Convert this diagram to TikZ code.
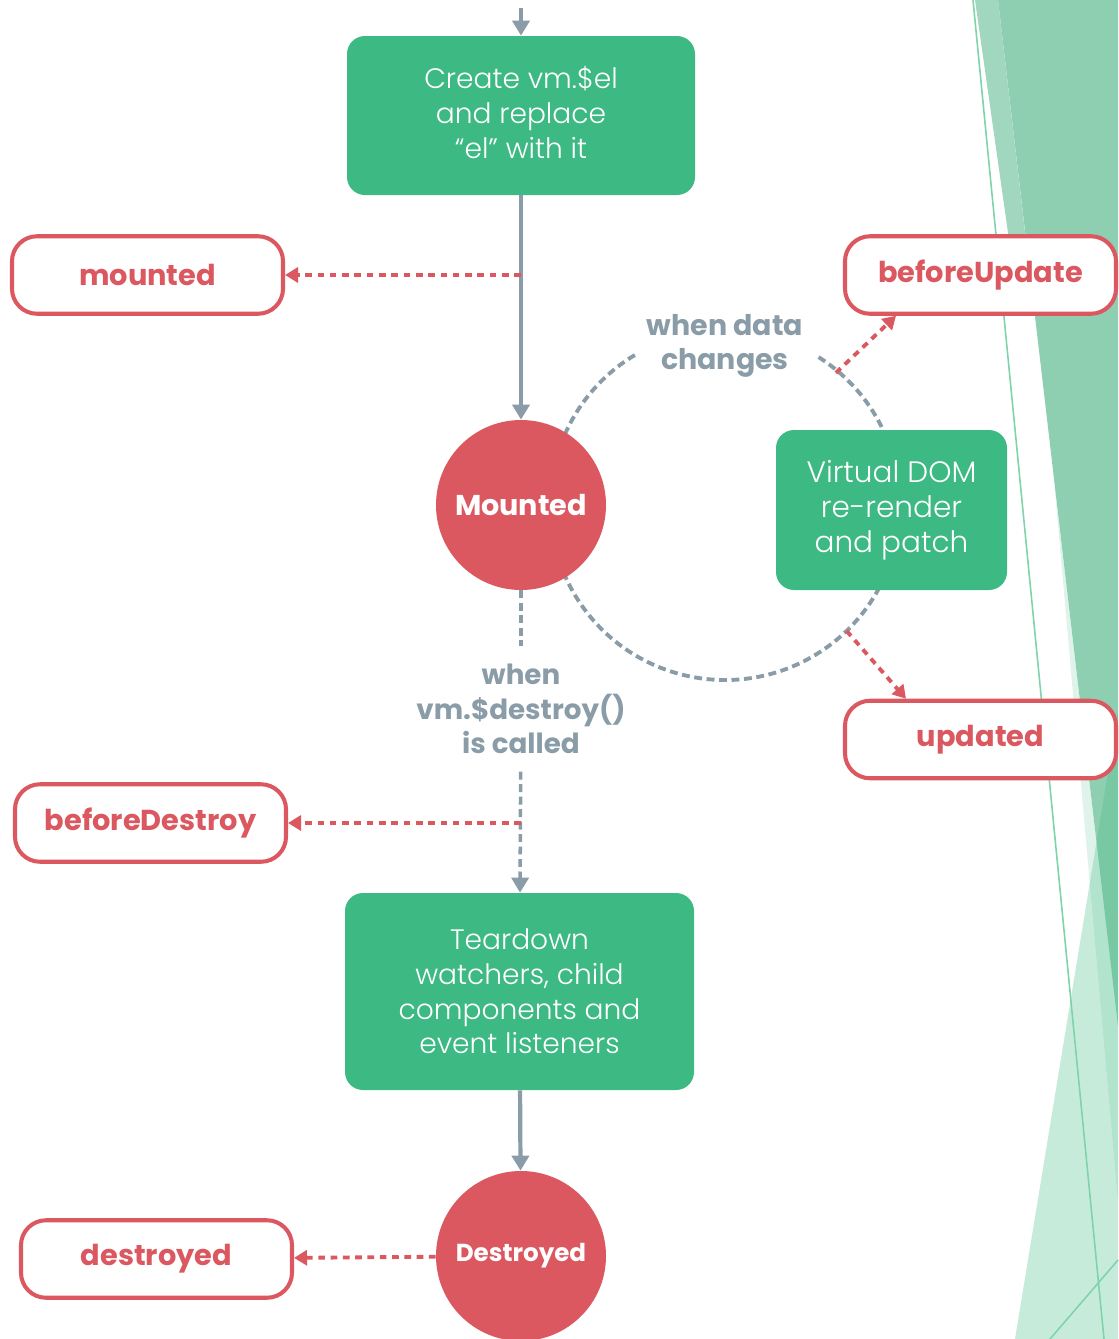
\documentclass[tikz,border=0pt]{standalone}
\usepackage{fontspec}
\setmainfont{Poppins}
\newfontfamily\thinfont{Poppins Light}
\usetikzlibrary{arrows.meta}

\definecolor{vuegreen}{HTML}{3DB983}
\definecolor{vuered}{HTML}{DB5860}
\definecolor{vuegray}{HTML}{8A9CA7}
\definecolor{facetmid}{HTML}{8FCFB1}
\definecolor{facetstrip}{HTML}{A0D7BE}
\definecolor{facetline}{HTML}{7FD3AB}

\begin{document}
\begin{tikzpicture}[
        stagebox/.style={fill=vuegreen, rounded corners=0.36cm, text=white, align=center,
            font=\thinfont\fontsize{16}{19.8}\selectfont},
        hookbox/.style={draw=vuered, line width=2.3pt, fill=white, rounded corners=0.5cm,
            minimum width=5.42cm, minimum height=1.55cm, text=vuered,
            font=\bfseries\fontsize{16.4}{19}\selectfont},
        statecircle/.style={circle, fill=vuered, minimum size=3.4cm, inner sep=0pt, text=white,
            font=\bfseries\fontsize{16.3}{19}\selectfont},
        waitlabel/.style={text=vuegray, align=center, inner sep=0.35cm,
            font=\bfseries\fontsize{15.8}{19.6}\selectfont},
        flow/.style={draw=vuegray, line width=2.4pt, -{Triangle[length=0.3cm,width=0.34cm]}},
        waitline/.style={draw=vuegray, line width=2pt, dash pattern=on 4.5pt off 2.6pt},
        hookline/.style={draw=vuered, line width=2.2pt, dash pattern=on 3.8pt off 3.2pt,
            -{Triangle[length=0.26cm,width=0.3cm]}}
    ]
    \useasboundingbox (0,0) rectangle (22.36,-26.78);

    \fill[facetmid] (19.96,0) -- (22.36,0) -- (22.36,-20.52) -- cycle;
    \fill[facetstrip] (19.5,0) -- (19.96,0) -- (20.6,-5.5) -- (20.28,-5.5) -- cycle;
    \fill[vuegreen, opacity=.165] (21.08,-9.6) -- (22.36,-24.02) -- (22.36,-20.52) -- cycle;
    \fill[vuegreen, opacity=.285] (20.3,-26.78) -- (22.36,-14.22) -- (22.36,-26.78) -- cycle;
    \draw[facetline, line width=0.9pt] (19.46,0) -- (22.08,-26.78);
    \draw[facetline, line width=0.9pt] (21.0,-26.78) -- (22.36,-25.2);

    \coordinate (loopc) at (14.5,-10.1);
    \draw[waitline, line width=2.2pt] ([shift={(loopc)}]121:3.5) arc[start angle=121, end angle=419, radius=3.5];

    \coordinate (entry) at (10.42,-0.16);
    \node[stagebox, minimum width=6.96cm, minimum height=3.18cm, text depth=0.12cm] (create) at (10.42,-2.31) {Create vm.\$el\\and replace\\“el” with it};
    \node[statecircle] (mounted) at (10.42,-10.1) {Mounted};
    \node[hookbox] (mountedhook) at (2.95,-5.5) {mounted};
    \node[hookbox] (beforeupdate) at (19.61,-5.5) {beforeUpdate};
    \node[waitlabel, font=\bfseries\fontsize{16.2}{19.6}\selectfont] (datachange) at (14.5,-6.92) {when data\\changes};
    \node[stagebox, minimum width=4.62cm, minimum height=3.2cm, font=\thinfont\fontsize{16.8}{19.8}\selectfont] (rerender) at (17.83,-10.2) {Virtual DOM\\re-render\\and patch};
    \node[hookbox] (updated) at (19.61,-14.79) {updated};
    \node[waitlabel] (destroywhen) at (10.42,-14.18) {when\\vm.\$destroy()\\is called};
    \node[hookbox] (beforedestroy) at (3.01,-16.46) {beforeDestroy};
    \node[stagebox, minimum width=6.98cm, minimum height=3.94cm] (teardown) at (10.39,-19.83) {Teardown\\watchers, child\\components and\\event listeners};
    \node[statecircle, font=\bfseries\fontsize{14}{17}\selectfont] (destroyed) at (10.42,-25.12) {Destroyed};
    \node[hookbox] (destroyedhook) at (3.13,-25.18) {destroyed};

    \coordinate (mountedtap) at (10.42,-5.5);
    \coordinate (destroytap) at (10.42,-16.46);

    \draw[flow] (entry) -- (create);
    \draw[flow] (create) -- (mounted);
    \draw[hookline] (mountedtap) -- (mountedhook);
    \draw[hookline] ([shift={(loopc)}]50:3.45) -- ([xshift=1.06cm]beforeupdate.south west);
    \draw[hookline] ([shift={(loopc)}]-46:3.5) -- ([xshift=1.26cm]updated.north west);
    \draw[waitline] (mounted) -- (destroywhen);
    \draw[waitline, -{Triangle[length=0.3cm,width=0.34cm]}] (destroywhen) -- (teardown);
    \draw[hookline] (destroytap) -- (beforedestroy);
    \draw[flow] (teardown) -- (destroyed);
    \draw[hookline] (destroyed) -- (destroyedhook);
\end{tikzpicture}
\end{document}
